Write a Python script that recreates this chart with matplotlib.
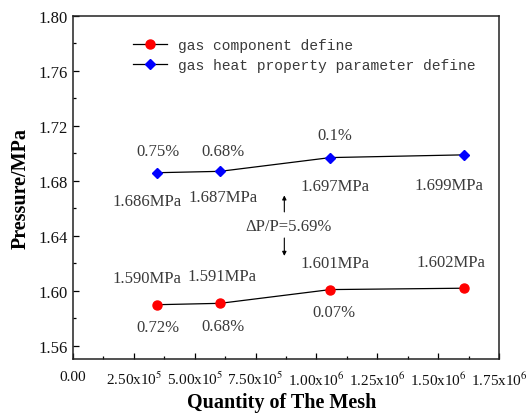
import matplotlib
matplotlib.use("Agg")
import matplotlib.pyplot as plt

# datos
mesh = [3.45e5, 6.04e5, 1.057e6, 1.608e6]
p_component = [1.590, 1.591, 1.601, 1.602]
p_heat = [1.686, 1.687, 1.697, 1.699]

lbl_component_val = ["1.590MPa", "1.591MPa", "1.601MPa", "1.602MPa"]
lbl_component_pct = ["0.72%", "0.68%", "0.07%"]
lbl_heat_val = ["1.686MPa", "1.687MPa", "1.697MPa", "1.699MPa"]
lbl_heat_pct = ["0.75%", "0.68%", "0.1%"]
delta_text = "\u0394P/P=5.69%"

yticks = [1.56, 1.60, 1.64, 1.68, 1.72, 1.76, 1.80]
xticks = [0, 2.5e5, 5.0e5, 7.5e5, 1.0e6, 1.25e6, 1.5e6, 1.75e6]
xtick_labels = ["0.00", "2.50x10$^5$", "5.00x10$^5$", "7.50x10$^5$",
                "1.00x10$^6$", "1.25x10$^6$", "1.50x10$^6$", "1.75x10$^6$"]

plt.rcParams["mathtext.fontset"] = "stix"
serif = "Liberation Serif"
txt_col = "#3a3a3a"

fig = plt.figure(figsize=(5.27, 4.14), dpi=100)
ax = fig.add_axes([0.1385, 0.1304, 0.8085, 0.8286])

ax.plot(mesh, p_component, color="black", lw=0.9, marker="o", ms=6.5,
        mfc="red", mec="red", label="gas component define")
ax.plot(mesh, p_heat, color="black", lw=0.9, marker="D", ms=5.5,
        mfc="blue", mec="blue", label="gas heat property parameter define")

ax.set_xlim(0, 1.75e6)
ax.set_ylim(1.5505, 1.80)
ax.set_yticks(yticks)
ax.set_yticklabels([f"{v:.2f}" for v in yticks], family=serif, fontsize=12,
                   color="#111111")
ax.set_yticks([1.58, 1.62, 1.66, 1.70, 1.74, 1.78], minor=True)
ax.set_xticks(xticks)
ax.set_xticklabels(xtick_labels, family=serif, fontsize=11, color="#111111")
ax.set_xticks([1.25e5, 3.75e5, 6.25e5, 8.75e5, 1.125e6, 1.375e6, 1.625e6], minor=True)
ax.tick_params(which="major", direction="in", length=4, width=0.9)
ax.tick_params(which="minor", direction="in", length=2.5, width=0.9)
ax.tick_params(axis="x", pad=8)
for s in ax.spines.values():
    s.set_linewidth(1.1)
    s.set_color("#222222")

# etiquetas de valores (desplazamiento en pixeles respecto al punto)
def etiquetas(xs, ys, textos, offsets):
    for xv, yv, t, (dx, dy) in zip(xs, ys, textos, offsets):
        ax.annotate(t, (xv, yv), xytext=(dx, dy), textcoords="offset pixels",
                    ha="center", va="center", family=serif, fontsize=12,
                    color=txt_col)

etiquetas(mesh, p_heat, lbl_heat_val, [(-10, -28), (3, -26), (5, -28), (-16, -30)])
etiquetas(mesh, p_heat, lbl_heat_pct, [(1, 22), (3, 20), (4, 23)])
etiquetas(mesh, p_component, lbl_component_val, [(-10, 27), (2, 27), (5, 27), (-14, 26)])
etiquetas(mesh, p_component, lbl_component_pct, [(1, -22), (3, -23), (4, -22)])

ax.text(8.84e5, 1.6473, delta_text, ha="center", va="center",
        family=serif, fontsize=12, color=txt_col)
ax.annotate("", xy=(8.68e5, 1.6695), xytext=(8.68e5, 1.6575),
            arrowprops=dict(arrowstyle="-|>", color="black", lw=0.8,
                            mutation_scale=6, shrinkA=0, shrinkB=0))
ax.annotate("", xy=(8.68e5, 1.6255), xytext=(8.68e5, 1.6385),
            arrowprops=dict(arrowstyle="-|>", color="black", lw=0.8,
                            mutation_scale=6, shrinkA=0, shrinkB=0))

ax.set_xlabel("Quantity of The Mesh", family=serif, fontweight="bold",
              fontsize=14.5, va="center")
ax.xaxis.set_label_coords(0.49, -0.125)
ax.set_ylabel("Pressure/MPa", family=serif, fontweight="bold", fontsize=14.5,
              va="center")
ax.yaxis.set_label_coords(-0.122, 0.5)

leg = ax.legend(loc="upper left", bbox_to_anchor=(0.11, 0.975), frameon=False,
                prop={"family": "Liberation Mono", "size": 10.5},
                handlelength=2.3, handletextpad=0.8, labelspacing=0.45)
for t in leg.get_texts():
    t.set_color(txt_col)

fig.savefig("out.png", dpi=100)
